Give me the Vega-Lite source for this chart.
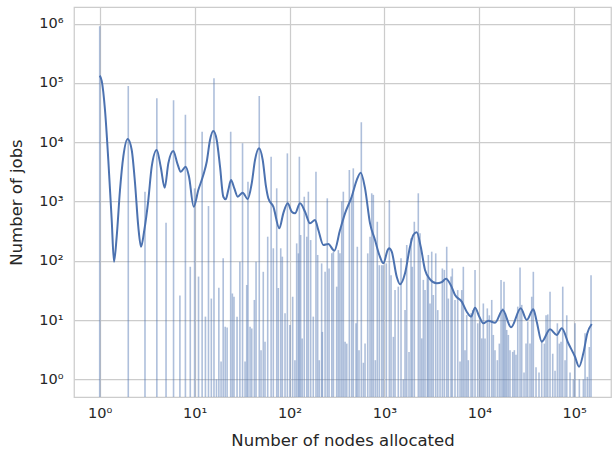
{
  "$schema": "https://vega.github.io/schema/vega-lite/v6.json",
  "width": 537,
  "height": 390,
  "autosize": {"type": "none"},
  "padding": {"left": 74, "top": 7, "right": 2, "bottom": 57},
  "background": "white",
  "config": {
    "view": {"stroke": "#cccccc", "strokeWidth": 1.25},
    "font": "DejaVu Sans",
    "axis": {
      "domain": false,
      "ticks": false,
      "gridColor": "#cccccc",
      "gridWidth": 1.25,
      "labelFont": "DejaVu Sans",
      "labelFontSize": 14.5,
      "labelColor": "#262626",
      "titleFont": "DejaVu Sans",
      "titleFontSize": 16.5,
      "titleFontWeight": "normal",
      "titleColor": "#262626"
    }
  },
  "datasets": {
    "bars": [
      {"n": 1, "c": 900000}, {"n": 2, "c": 88000}, {"n": 3, "c": 1458}, {"n": 4, "c": 55000},
      {"n": 5, "c": 437}, {"n": 6, "c": 51000}, {"n": 7, "c": 26}, {"n": 8, "c": 29000},
      {"n": 9, "c": 79}, {"n": 10, "c": 1660}, {"n": 11, "c": 54}, {"n": 12, "c": 15000},
      {"n": 13, "c": 11.4}, {"n": 14, "c": 836}, {"n": 15, "c": 23}, {"n": 16, "c": 120000},
      {"n": 17, "c": 1}, {"n": 18, "c": 35}, {"n": 19, "c": 2}, {"n": 20, "c": 110},
      {"n": 21, "c": 7.7}, {"n": 22, "c": 7.5}, {"n": 24, "c": 15000}, {"n": 25, "c": 28},
      {"n": 26, "c": 24.7}, {"n": 28, "c": 11.4}, {"n": 30, "c": 96}, {"n": 32, "c": 9550},
      {"n": 34, "c": 2}, {"n": 35.4, "c": 39}, {"n": 36.5, "c": 2150}, {"n": 38.4, "c": 7.7},
      {"n": 40, "c": 7.2}, {"n": 42.6, "c": 21.8}, {"n": 44.4, "c": 96}, {"n": 48, "c": 60000},
      {"n": 50.1, "c": 3.1}, {"n": 52.9, "c": 65}, {"n": 55.2, "c": 4.3}, {"n": 58.9, "c": 254},
      {"n": 64, "c": 5675}, {"n": 67.5, "c": 162}, {"n": 73.3, "c": 1663}, {"n": 76.2, "c": 34.7},
      {"n": 80.8, "c": 162}, {"n": 84, "c": 117}, {"n": 89.7, "c": 13}, {"n": 94.9, "c": 6460},
      {"n": 101, "c": 8.2}, {"n": 108, "c": 24.7}, {"n": 114, "c": 2.1}, {"n": 119, "c": 196},
      {"n": 124, "c": 133}, {"n": 127, "c": 5675}, {"n": 131, "c": 271}, {"n": 136, "c": 4.9},
      {"n": 143, "c": 1200}, {"n": 152, "c": 254}, {"n": 158, "c": 1458}, {"n": 167, "c": 223},
      {"n": 178, "c": 11.4}, {"n": 190, "c": 3170}, {"n": 198, "c": 125}, {"n": 206, "c": 2.1},
      {"n": 218, "c": 90}, {"n": 222, "c": 6.3}, {"n": 237, "c": 65}, {"n": 250, "c": 1128},
      {"n": 261, "c": 74}, {"n": 279, "c": 133}, {"n": 290, "c": 142}, {"n": 314, "c": 36.5},
      {"n": 327, "c": 151}, {"n": 340, "c": 133}, {"n": 355, "c": 1000}, {"n": 369, "c": 1458},
      {"n": 385, "c": 4.3}, {"n": 401, "c": 4}, {"n": 427, "c": 3390}, {"n": 452, "c": 1200},
      {"n": 470, "c": 3614}, {"n": 502, "c": 8.8}, {"n": 518, "c": 172}, {"n": 540, "c": 3.1},
      {"n": 571, "c": 21600}, {"n": 600, "c": 1.9}, {"n": 625, "c": 4}, {"n": 667, "c": 133},
      {"n": 705, "c": 254}, {"n": 735, "c": 1370}, {"n": 764, "c": 1290}, {"n": 802, "c": 2.1},
      {"n": 841, "c": 454}, {"n": 884, "c": 84}, {"n": 937, "c": 84}, {"n": 974, "c": 84},
      {"n": 1047, "c": 90}, {"n": 1127, "c": 1056}, {"n": 1175, "c": 57}, {"n": 1242, "c": 5.2},
      {"n": 1294, "c": 32}, {"n": 1400, "c": 36.5}, {"n": 1496, "c": 110}, {"n": 1582, "c": 1},
      {"n": 1649, "c": 14.7}, {"n": 1718, "c": 184}, {"n": 1816, "c": 2.9}, {"n": 1906, "c": 239},
      {"n": 1967, "c": 79}, {"n": 2065, "c": 454}, {"n": 2275, "c": 1370}, {"n": 2372, "c": 290},
      {"n": 2472, "c": 4.9}, {"n": 2571, "c": 47.5}, {"n": 2679, "c": 32}, {"n": 2833, "c": 57},
      {"n": 2904, "c": 125}, {"n": 3023, "c": 19}, {"n": 3150, "c": 142}, {"n": 3276, "c": 26.4},
      {"n": 3473, "c": 133}, {"n": 3647, "c": 14.7}, {"n": 3855, "c": 10}, {"n": 4077, "c": 74},
      {"n": 4278, "c": 70}, {"n": 4532, "c": 172}, {"n": 4713, "c": 23}, {"n": 5030, "c": 54},
      {"n": 5193, "c": 74}, {"n": 5543, "c": 21.8}, {"n": 5918, "c": 32}, {"n": 6262, "c": 2},
      {"n": 6529, "c": 32}, {"n": 6784, "c": 79}, {"n": 7066, "c": 3.1}, {"n": 7366, "c": 12.1},
      {"n": 7659, "c": 2.1}, {"n": 8180, "c": 13}, {"n": 8511, "c": 14.7}, {"n": 9010, "c": 70},
      {"n": 9620, "c": 8.8}, {"n": 10160, "c": 10}, {"n": 10600, "c": 4.9}, {"n": 11020, "c": 19},
      {"n": 11480, "c": 4.9}, {"n": 12140, "c": 15.7}, {"n": 12740, "c": 12}, {"n": 13510, "c": 21.8},
      {"n": 14050, "c": 5.6}, {"n": 14630, "c": 3.1}, {"n": 15480, "c": 2.1}, {"n": 16250, "c": 4},
      {"n": 16940, "c": 47.5}, {"n": 17650, "c": 15.7}, {"n": 18200, "c": 44}, {"n": 18800, "c": 13},
      {"n": 19440, "c": 6.8}, {"n": 20220, "c": 5.6}, {"n": 21060, "c": 3.1}, {"n": 22490, "c": 2.9},
      {"n": 23380, "c": 3.1}, {"n": 24360, "c": 2.6}, {"n": 25400, "c": 16.8}, {"n": 26850, "c": 77},
      {"n": 27980, "c": 18}, {"n": 29580, "c": 1.3}, {"n": 31050, "c": 4}, {"n": 32360, "c": 9.4},
      {"n": 34200, "c": 4}, {"n": 35650, "c": 24.7}, {"n": 37070, "c": 65}, {"n": 39570, "c": 1.6},
      {"n": 42540, "c": 1.3}, {"n": 45450, "c": 4.6}, {"n": 48400, "c": 4}, {"n": 50470, "c": 12},
      {"n": 52600, "c": 12.4}, {"n": 55590, "c": 30}, {"n": 59350, "c": 2.7}, {"n": 62770, "c": 1.4},
      {"n": 66400, "c": 8.8}, {"n": 69660, "c": 4}, {"n": 72610, "c": 4.3}, {"n": 75680, "c": 36.5},
      {"n": 80040, "c": 2.1}, {"n": 83400, "c": 12}, {"n": 90340, "c": 1.3}, {"n": 97900, "c": 1},
      {"n": 101900, "c": 8.8}, {"n": 113200, "c": 1}, {"n": 124800, "c": 1}, {"n": 130000, "c": 6},
      {"n": 137400, "c": 1.1}, {"n": 144200, "c": 3.5}, {"n": 150300, "c": 57}
    ],
    "kde": [
      {"n": 1, "c": 132000}, {"n": 1.05, "c": 108000}, {"n": 1.137, "c": 34800}, {"n": 1.232, "c": 4990},
      {"n": 1.338, "c": 486}, {"n": 1.415, "c": 96}, {"n": 1.51, "c": 254}, {"n": 1.636, "c": 1556},
      {"n": 1.773, "c": 5675}, {"n": 1.972, "c": 11280}, {"n": 2.174, "c": 7360}, {"n": 2.355, "c": 2043},
      {"n": 2.551, "c": 374}, {"n": 2.724, "c": 172}, {"n": 2.951, "c": 329}, {"n": 3.252, "c": 1056},
      {"n": 3.532, "c": 3849}, {"n": 3.988, "c": 7360}, {"n": 4.393, "c": 3849}, {"n": 4.841, "c": 1703},
      {"n": 5.284, "c": 4389}, {"n": 5.966, "c": 7080}, {"n": 6.572, "c": 4389}, {"n": 7.137, "c": 3170},
      {"n": 8.058, "c": 3849}, {"n": 8.73, "c": 2610}, {"n": 9.78, "c": 814}, {"n": 10.94, "c": 1556},
      {"n": 12.35, "c": 2787}, {"n": 13.42, "c": 4670}, {"n": 14.53, "c": 10850}, {"n": 15.74, "c": 15400},
      {"n": 17.1, "c": 10850}, {"n": 18.53, "c": 3849}, {"n": 20.06, "c": 1200}, {"n": 21.27, "c": 1085},
      {"n": 22.65, "c": 1556}, {"n": 24.19, "c": 2296}, {"n": 26.21, "c": 1663}, {"n": 28.46, "c": 1200},
      {"n": 32.12, "c": 1403}, {"n": 36.27, "c": 1097}, {"n": 39.98, "c": 2019}, {"n": 43.3, "c": 4990},
      {"n": 47.7, "c": 7855}, {"n": 52.2, "c": 4990}, {"n": 56.55, "c": 1770}, {"n": 59.8, "c": 1128},
      {"n": 67.5, "c": 814}, {"n": 78.1, "c": 352}, {"n": 86, "c": 630}, {"n": 95.7, "c": 929},
      {"n": 105.5, "c": 670}, {"n": 114.3, "c": 630}, {"n": 129, "c": 929}, {"n": 145.7, "c": 670},
      {"n": 164.4, "c": 427}, {"n": 185.7, "c": 486}, {"n": 201.2, "c": 329}, {"n": 227.1, "c": 184},
      {"n": 256.4, "c": 191}, {"n": 296.6, "c": 147.5}, {"n": 340.5, "c": 329}, {"n": 384.5, "c": 630},
      {"n": 452.2, "c": 1200}, {"n": 510.6, "c": 2296}, {"n": 562.7, "c": 3048}, {"n": 624.6, "c": 1663},
      {"n": 705.3, "c": 427}, {"n": 796.2, "c": 223}, {"n": 883.6, "c": 124.8}, {"n": 973.7, "c": 90.4},
      {"n": 1083, "c": 151.5}, {"n": 1118, "c": 161.8}, {"n": 1194, "c": 141.9}, {"n": 1348, "c": 53.7},
      {"n": 1460, "c": 40}, {"n": 1649, "c": 61.3}, {"n": 1861, "c": 172}, {"n": 2016, "c": 271},
      {"n": 2190, "c": 301}, {"n": 2413, "c": 172}, {"n": 2678, "c": 69.7}, {"n": 3024, "c": 48.6},
      {"n": 3557, "c": 41.6}, {"n": 4017, "c": 43.7}, {"n": 4459, "c": 49.7}, {"n": 4995, "c": 38.9},
      {"n": 5545, "c": 26.4}, {"n": 6524, "c": 20.4}, {"n": 7366, "c": 13.8}, {"n": 8176, "c": 11.37},
      {"n": 9010, "c": 16.1}, {"n": 10000, "c": 11.37}, {"n": 11020, "c": 8.8}, {"n": 12440, "c": 9.73},
      {"n": 14640, "c": 9.0}, {"n": 17650, "c": 14.74}, {"n": 21580, "c": 7.53}, {"n": 27310, "c": 15.75},
      {"n": 31590, "c": 10}, {"n": 37070, "c": 15.15}, {"n": 40260, "c": 9.36}, {"n": 45450, "c": 4.31},
      {"n": 55590, "c": 6.97}, {"n": 65410, "c": 5.58}, {"n": 73850, "c": 7.25}, {"n": 86670, "c": 4.05},
      {"n": 101900, "c": 2.4}, {"n": 112400, "c": 1.63}, {"n": 124700, "c": 2.74}, {"n": 137400, "c": 5.97},
      {"n": 152900, "c": 8.57}
    ]
  },
  "layer": [
    {
      "data": {"name": "bars"},
      "mark": {"type": "bar", "size": 1.6, "color": "#4c72b0", "opacity": 0.45, "clip": true},
      "encoding": {
        "x": {
          "field": "n", "type": "quantitative",
          "scale": {"type": "log", "domain": [0.536, 244000], "nice": false, "padding": 0},
          "axis": {
            "title": "Number of nodes allocated",
            "values": [1, 10, 100, 1000, 10000, 100000],
            "labelExpr": "'10' + ['⁰','¹','²','³','⁴','⁵','⁶'][round(log(datum.value)/LN10)]",
            "labelPadding": 9,
            "titlePadding": 13
          }
        },
        "y": {
          "field": "c", "type": "quantitative",
          "scale": {"type": "log", "domain": [0.503, 1900000], "nice": false, "padding": 0},
          "axis": {
            "title": "Number of jobs",
            "values": [1, 10, 100, 1000, 10000, 100000, 1000000],
            "labelExpr": "'10' + ['⁰','¹','²','³','⁴','⁵','⁶'][round(log(datum.value)/LN10)]",
            "labelPadding": 11,
            "titlePadding": 14
          }
        },
        "y2": {"datum": 0.4}
      }
    },
    {
      "data": {"name": "kde"},
      "mark": {"type": "line", "color": "#4c72b0", "strokeWidth": 2, "interpolate": "monotone", "clip": true},
      "encoding": {
        "x": {"field": "n", "type": "quantitative"},
        "y": {"field": "c", "type": "quantitative"}
      }
    }
  ]
}
